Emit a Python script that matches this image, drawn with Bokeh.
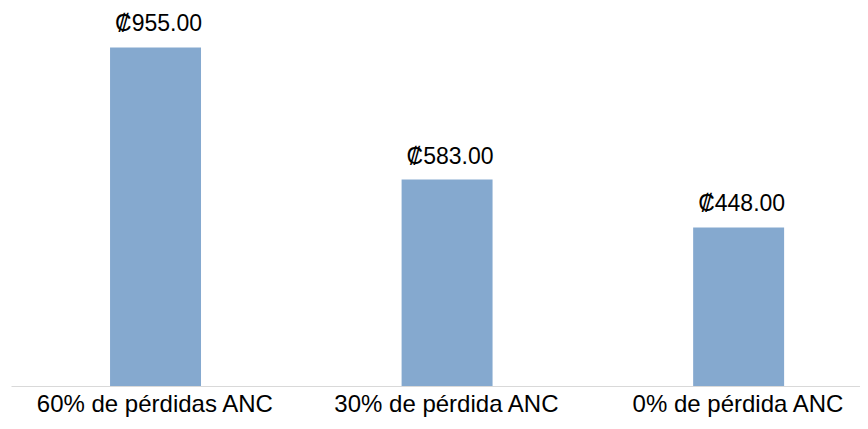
from bokeh.plotting import figure
from bokeh.models import ColumnDataSource, Range1d, FixedTicker
from bokeh.core.properties import value
from bokeh.embed import file_html
from bokeh.resources import INLINE

categories = ["60% de pérdidas ANC", "30% de pérdida ANC", "0% de pérdida ANC"]
values = [955.0, 583.0, 448.0]
label_texts = ["₡{:.2f}".format(v) for v in values]

xs = list(range(len(categories)))
src = ColumnDataSource(dict(x=xs, top=values, label=label_texts))

p = figure(width=860, height=425, output_backend="svg", toolbar_location=None,
           x_range=Range1d(-0.494, 2.418), y_range=Range1d(0, 1059),
           min_border_left=11, min_border_right=0, min_border_top=10, min_border_bottom=39)

p.vbar(x="x", top="top", width=0.312, bottom=0, source=src,
       fill_color="#85A9CF", line_color=None)

p.text(x="x", y="top", text="label", source=src, text_align="center",
       text_baseline="alphabetic", y_offset=-24, x_offset=3,
       text_font=value("Liberation Sans"), text_font_size="23px", text_color="#000000")

p.xaxis.ticker = FixedTicker(ticks=xs)
p.xaxis.major_label_overrides = {i: c for i, c in enumerate(categories)}
p.xaxis.major_label_text_font = "Liberation Sans"
p.xaxis.major_label_text_font_size = "24px"
p.xaxis.major_label_text_color = "#000000"
p.xaxis.major_label_standoff = 3
p.xaxis.major_tick_line_color = None
p.xaxis.minor_tick_line_color = None
p.xaxis.major_tick_out = 0
p.xaxis.major_tick_in = 0
p.xaxis.axis_line_color = "#d9d9d9"
p.xaxis.axis_line_width = 1
p.yaxis.visible = False
p.xgrid.visible = False
p.ygrid.visible = False
p.outline_line_color = None

open("out.html", "w").write(file_html(p, INLINE))
